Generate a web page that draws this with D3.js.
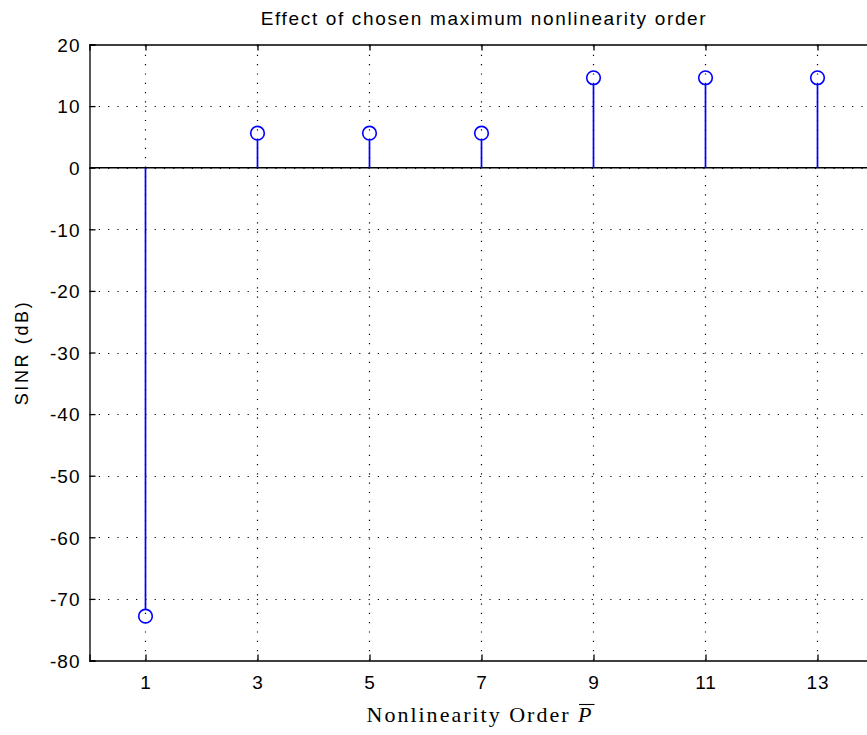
<!DOCTYPE html>
<html>
<head>
<meta charset="utf-8">
<script src="https://cdn.jsdelivr.net/npm/d3@7"></script>
<style>
  html, body { margin: 0; padding: 0; background: #fff; overflow: hidden; }
  svg { display: block; }
  text { fill: #000; }
</style>
</head>
<body>
<svg id="chart" width="867" height="735"></svg>
<script>
// SINR obtained for each maximum nonlinearity order
const orders = [1, 3, 5, 7, 9, 11, 13];
const sinrDb = [-72.8, 5.6, 5.6, 5.6, 14.6, 14.6, 14.6];

const xTicks = [1, 3, 5, 7, 9, 11, 13];
const yTicks = [20, 10, 0, -10, -20, -30, -40, -50, -60, -70, -80];
const xDomain = [0, 14];
const yDomain = [-80, 20];

const titleText = "Effect of chosen maximum nonlinearity order";
const yLabelText = "SINR (dB)";
const xLabelText = "Nonlinearity Order ";
const xLabelSymbol = "P";

const svg = d3.select("#chart");
const m = { left: 89.5, top: 44.5, right: 873.5, bottom: 660.5 };

const x = d3.scaleLinear().domain(xDomain).range([m.left, m.right]);
const y = d3.scaleLinear().domain(yDomain).range([m.bottom, m.top]);

const sans = "'Liberation Sans', Arial, sans-serif";
const serif = "'Liberation Serif', 'DejaVu Serif', serif";

// spread a text's glyphs so the whole string spans the given width
function fitWidth(sel, width) {
  const n = sel.text().length;
  const w = sel.node().getComputedTextLength();
  sel.style("letter-spacing", ((width - w) / Math.max(1, n - 1)) + "px");
}

// white plot background
svg.append("rect").attr("x", m.left).attr("y", m.top)
  .attr("width", m.right - m.left).attr("height", m.bottom - m.top)
  .attr("fill", "#fff");

// dotted grid
const grid = svg.append("g").attr("stroke", "#000").attr("stroke-width", 1.2)
  .attr("stroke-dasharray", "1.2,8.1").attr("fill", "none");
grid.selectAll("line.gx").data(xTicks).join("line").attr("class", "gx")
  .attr("x1", d => x(d)).attr("x2", d => x(d))
  .attr("y1", m.bottom).attr("y2", m.top);
grid.selectAll("line.gy").data(yTicks.filter(d => d !== 20 && d !== -80)).join("line").attr("class", "gy")
  .attr("y1", d => Math.round(y(d)) + 0.5).attr("y2", d => Math.round(y(d)) + 0.5)
  .attr("x1", m.left).attr("x2", m.right);

// axes with inward ticks on all sides
const tick = 6;
const fmt = d => String(d);
const ax = svg.append("g");

const xb = ax.append("g").attr("transform", `translate(0,${m.bottom})`)
  .call(d3.axisBottom(x).tickValues(xTicks).tickSize(-tick).tickPadding(12).tickFormat(fmt));
const xt = ax.append("g").attr("transform", `translate(0,${m.top})`)
  .call(d3.axisTop(x).tickValues(xTicks).tickSize(-tick).tickFormat(""));
const yl = ax.append("g").attr("transform", `translate(${m.left},0)`)
  .call(d3.axisLeft(y).tickValues(yTicks).tickSize(-tick).tickPadding(9).tickFormat(fmt));

[xb, xt, yl].forEach(g => {
  g.attr("font-family", sans).attr("font-size", 19);
  g.select(".domain").attr("stroke", "#000").attr("stroke-width", 1.3);
  g.selectAll(".tick line").attr("stroke", "#000").attr("stroke-width", 1.3);
  g.selectAll("text").attr("fill", "#000").style("letter-spacing", "1px");
});
xb.selectAll(".tick text").attr("y", 0).attr("dy", 0)
  .attr("transform", "translate(0,28)");
yl.selectAll(".tick text").attr("dy", "0.36em");

// stem baseline at zero
svg.append("line")
  .attr("x1", m.left).attr("x2", m.right)
  .attr("y1", y(0)).attr("y2", y(0))
  .attr("stroke", "#000").attr("stroke-width", 1.4);

// stems and markers
const data = orders.map((o, i) => ({ o, v: sinrDb[i] }));
const stems = svg.append("g");
stems.selectAll("line").data(data).join("line")
  .attr("x1", d => x(d.o)).attr("x2", d => x(d.o))
  .attr("y1", y(0)).attr("y2", d => y(d.v) + (d.v > 0 ? 7 : -7))
  .attr("stroke", "#0000ff").attr("stroke-width", 1.7);
stems.selectAll("circle").data(data).join("circle")
  .attr("cx", d => x(d.o)).attr("cy", d => y(d.v)).attr("r", 6.8)
  .attr("fill", "none").attr("stroke", "#0000ff").attr("stroke-width", 1.6);

// title
const title = svg.append("text")
  .attr("x", 484).attr("y", 25)
  .attr("text-anchor", "middle")
  .attr("font-family", sans).attr("font-size", 19)
  .text(titleText);
fitWidth(title, 445);

// y label
const ylab = svg.append("text")
  .attr("transform", `translate(28,${(m.top + m.bottom) / 2}) rotate(-90)`)
  .attr("text-anchor", "middle")
  .attr("font-family", sans).attr("font-size", 18)
  .text(yLabelText);
fitWidth(ylab, 103);

// x label with overlined italic P
const xl = svg.append("text")
  .attr("x", 480).attr("y", 722)
  .attr("text-anchor", "middle")
  .attr("font-family", serif).attr("font-size", 22);
xl.append("tspan").text(xLabelText);
const pSpan = xl.append("tspan").attr("font-style", "italic").text(xLabelSymbol);
fitWidth(xl, 225);
const pb = pSpan.node().getBBox();
svg.append("line")
  .attr("x1", pb.x + 2).attr("x2", pb.x + pb.width + 1)
  .attr("y1", pb.y + 2.5).attr("y2", pb.y + 2.5)
  .attr("stroke", "#000").attr("stroke-width", 1.1);
</script>
</body>
</html>
